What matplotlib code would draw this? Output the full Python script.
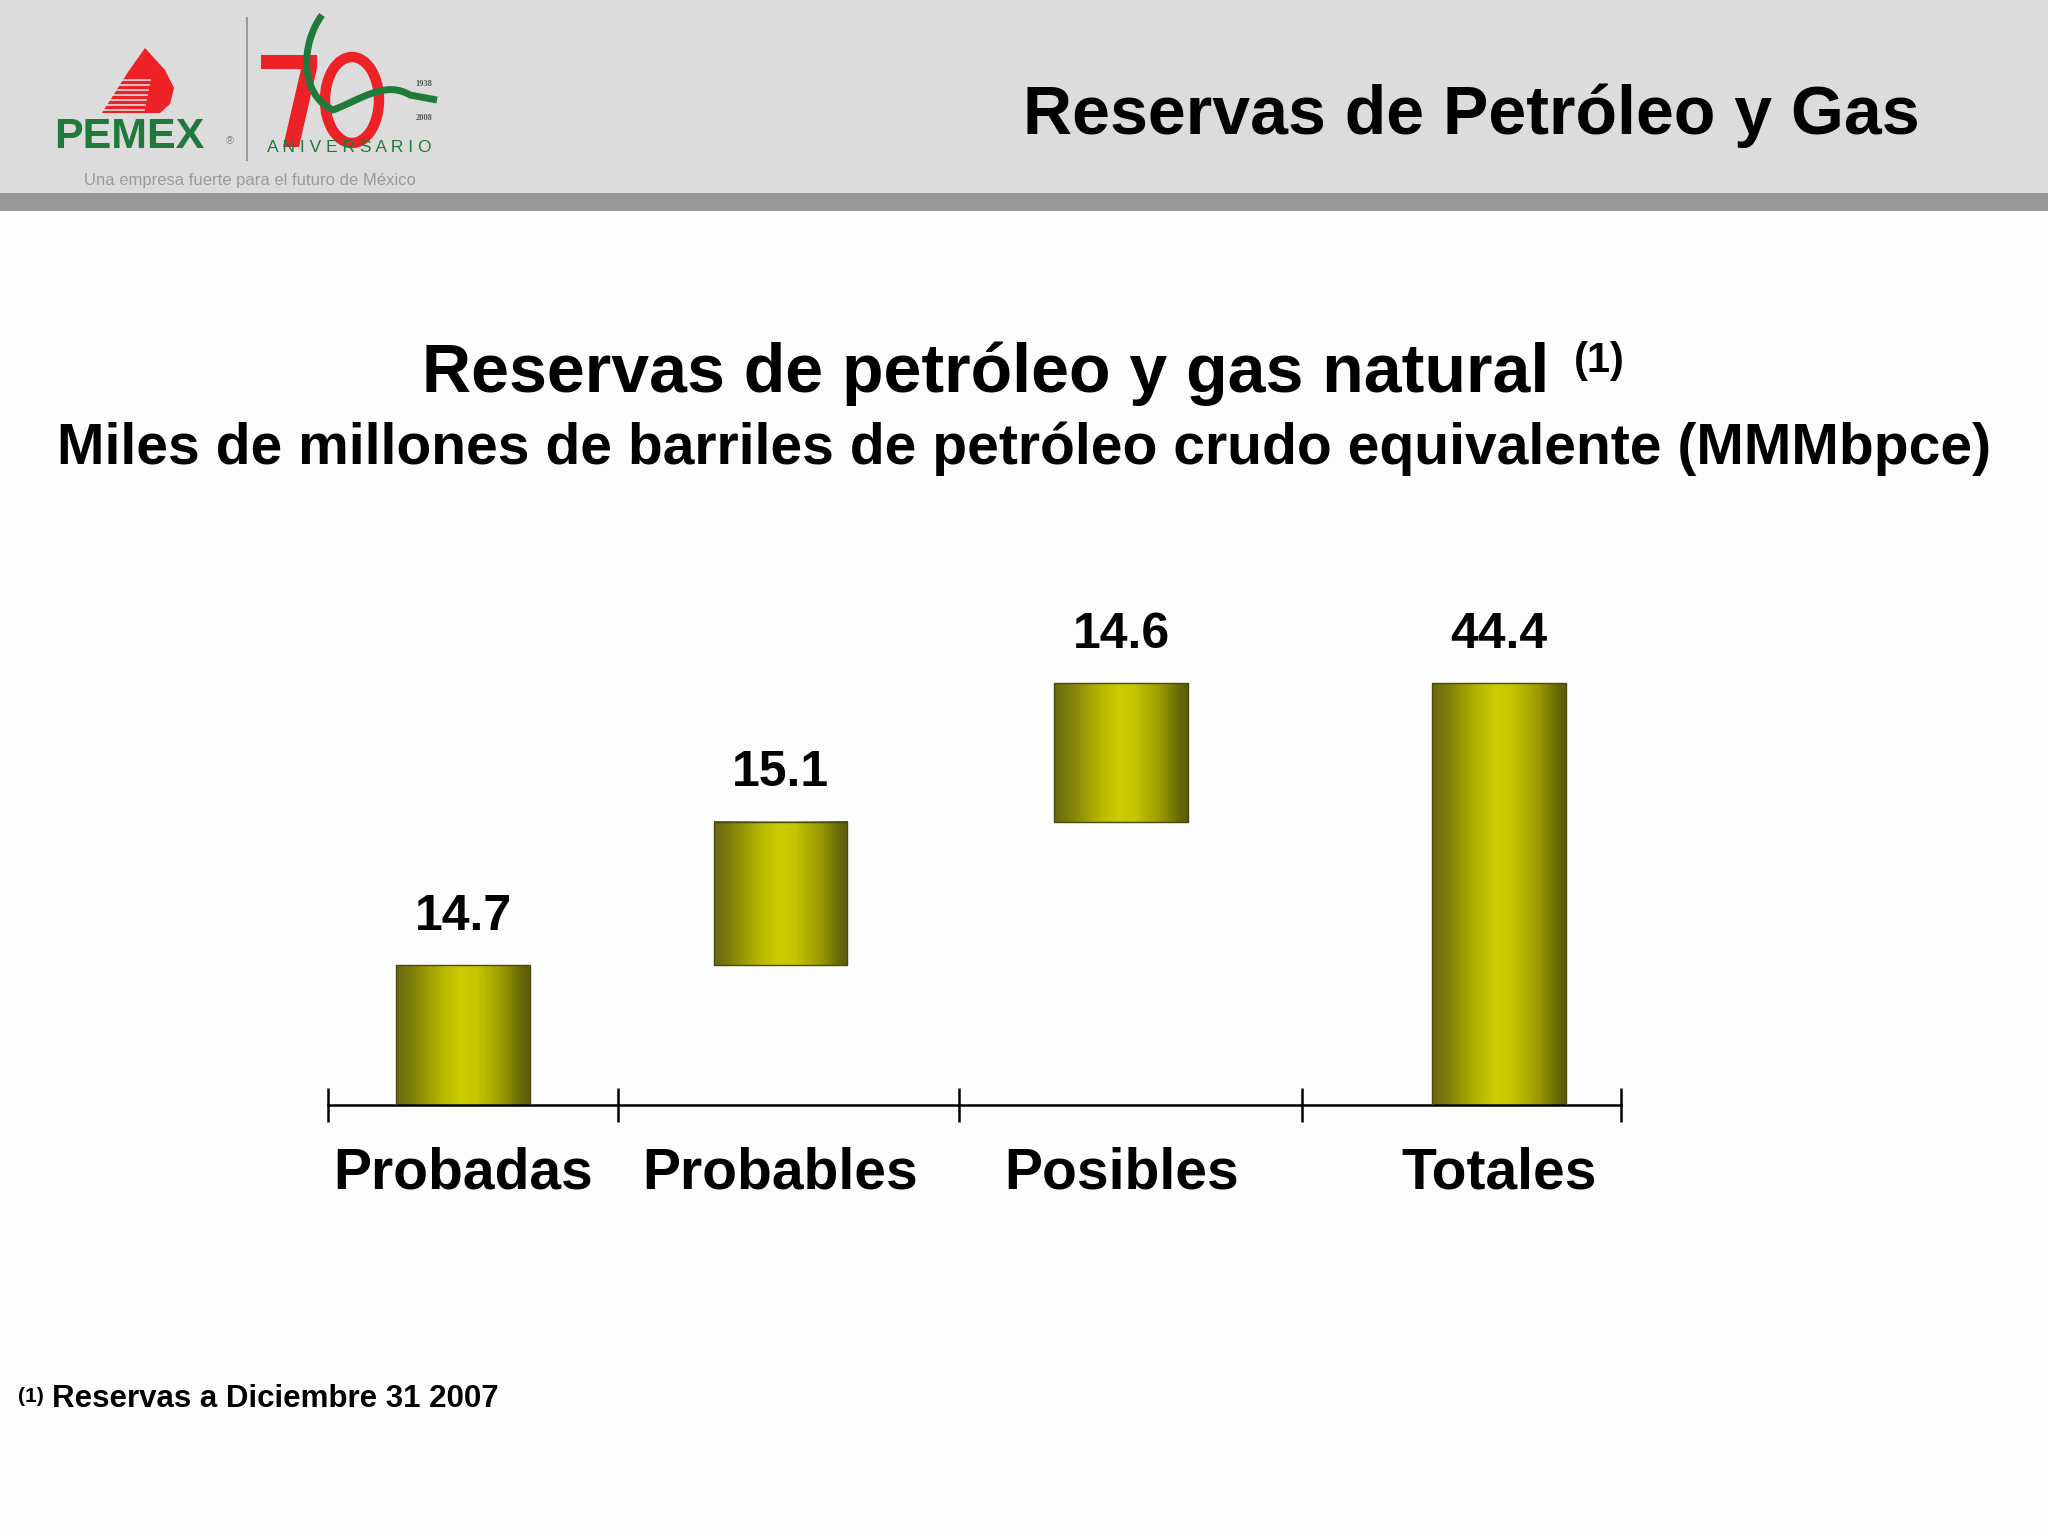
import numpy as np
import matplotlib
matplotlib.use("Agg")
import matplotlib.pyplot as plt
from matplotlib.colors import LinearSegmentedColormap
from matplotlib.patches import Rectangle, Polygon, Ellipse, PathPatch
from matplotlib.path import Path

plt.rcParams['font.family'] = ['Liberation Sans', 'DejaVu Sans']

# datos
categorias = ["Probadas", "Probables", "Posibles", "Totales"]
valores = [14.7, 15.1, 14.6, 44.4]
etiquetas = ["14.7", "15.1", "14.6", "44.4"]

W, H = 2048, 1537
fig = plt.figure(figsize=(W / 100, H / 100), dpi=100)
fig.patch.set_facecolor("#fdfdfd")

def fx(px):
    return px / W

def fy(py):
    return 1 - py / H

# cabecera gris
fig.patches.append(Rectangle((0, fy(193)), 1, 193 / H, transform=fig.transFigure,
                             facecolor="#dddcdd", edgecolor="none", zorder=0))
fig.patches.append(Rectangle((0, fy(211)), 1, 18 / H, transform=fig.transFigure,
                             facecolor="#98979a", edgecolor="none", zorder=0))

fig.text(fx(1920), fy(116), "Reservas de Petróleo y Gas", ha="right", va="center",
         fontsize=49, fontweight="bold", color="black")

# logo PEMEX (aproximado)
rojo = "#ec2227"
verde = "#1f7a3c"
gota = [(145, 48), (128, 72), (102, 113), (160, 113), (170, 104), (174, 88), (165, 70)]
fig.patches.append(Polygon([(fx(x), fy(y)) for x, y in gota], closed=True,
                           transform=fig.transFigure, facecolor=rojo, edgecolor="none"))
for yy in range(80, 114, 5):
    fig.lines.append(plt.Line2D([fx(100), fx(150 - (yy - 80) * 0.2)], [fy(yy), fy(yy)],
                                transform=fig.transFigure, color="#dddcdd", lw=1.2))
fig.text(fx(54), fy(137), "PEMEX", ha="left", va="center", fontsize=31,
         fontweight="bold", color=verde)
fig.text(fx(226), fy(141), "®", ha="left", va="center", fontsize=8, color="#888888")
fig.lines.append(plt.Line2D([fx(247), fx(247)], [fy(18), fy(160)],
                            transform=fig.transFigure, color="#9a9a9a", lw=1.5))
siete = [(261, 55), (317, 55), (317, 68), (299, 147), (283, 147), (301, 69), (261, 69)]
fig.patches.append(Polygon([(fx(x), fy(y)) for x, y in siete], closed=True,
                           transform=fig.transFigure, facecolor=rojo, edgecolor="none"))
fig.patches.append(Ellipse((fx(352), fy(100)), 54 / W, 86 / H, transform=fig.transFigure,
                           facecolor="none", edgecolor=rojo, lw=7.5))
verts = [(322, 15), (300, 45), (300, 95), (333, 110), (360, 100), (385, 80), (410, 95), (437, 100)]
codes = [Path.MOVETO, Path.CURVE4, Path.CURVE4, Path.CURVE4,
         Path.CURVE4, Path.CURVE4, Path.CURVE4, Path.LINETO]
fig.patches.append(PathPatch(Path([(fx(x), fy(y)) for x, y in verts], codes),
                             transform=fig.transFigure, facecolor="none",
                             edgecolor=verde, lw=5))
fig.text(fx(424), fy(84), "1938", ha="center", va="center", fontsize=6, color="#555555",
         family=["Liberation Serif"], fontweight="bold")
fig.text(fx(424), fy(118), "2008", ha="center", va="center", fontsize=6, color="#555555",
         family=["Liberation Serif"], fontweight="bold")
fig.text(fx(349), fy(147), "A N I V E R S A R I O", ha="center", va="center",
         fontsize=12.5, color=verde)
fig.text(fx(250), fy(180), "Una empresa fuerte para el futuro de México", ha="center",
         va="center", fontsize=12, color="#9a9a9a")

# titulos
fig.text(fx(986), fy(374), "Reservas de petróleo y gas natural", ha="center", va="center",
         fontsize=49, fontweight="bold")
fig.text(fx(1574), fy(361), "(1)", ha="left", va="center", fontsize=30, fontweight="bold")
fig.text(fx(1024), fy(449), "Miles de millones de barriles de petróleo crudo equivalente (MMMbpce)",
         ha="center", va="center", fontsize=41, fontweight="bold")

# grafica tipo cascada
ax = fig.add_axes([328 / W, 432 / H, (1621 - 328) / W, 475 / H])
ax.set_facecolor("none")

xpos = [0, 0.972, 2.016, 3.172]
limites = [-0.414, 0.474, 1.518, 2.570, 3.546]
ancho = 0.41

bases = [0, valores[0], valores[0] + valores[1], 0]
cmap = LinearSegmentedColormap.from_list("olivo", [
    (0.0, "#686810"), (0.12, "#7f7f0a"), (0.35, "#b8b800"), (0.48, "#cccc00"),
    (0.6, "#c6c600"), (0.8, "#999900"), (0.93, "#6a6a08"), (1.0, "#5c5c0a")])
grad = np.linspace(0, 1, 256).reshape(1, -1)

for x, b, v, t in zip(xpos, bases, valores, etiquetas):
    ax.imshow(grad, cmap=cmap, aspect="auto", extent=(x - ancho / 2, x + ancho / 2, b, b + v),
              zorder=2, interpolation="bilinear")
    ax.bar(x, v, bottom=b, width=ancho, facecolor="none", edgecolor="#4a4a10",
           linewidth=1.0, zorder=3)
    ax.annotate(t, (x, b + v), xytext=(0, 35), textcoords="offset points",
                ha="center", va="center", fontsize=36, fontweight="bold")

ax.set_xlim(limites[0], limites[-1])
ax.set_ylim(0, 50)
for s in ["left", "right", "top"]:
    ax.spines[s].set_visible(False)
ax.spines["bottom"].set_linewidth(1.8)
ax.set_yticks([])
ax.set_xticks(limites)
ax.set_xticklabels([])
ax.tick_params(axis="x", which="major", direction="inout", length=24, width=1.8)
ax.set_xticks(xpos, minor=True)
ax.set_xticklabels(categorias, minor=True, fontsize=41, fontweight="bold")
ax.tick_params(axis="x", which="minor", length=0, pad=30)

# nota
fig.text(fx(18), fy(1396), "(1)", ha="left", va="center", fontsize=15, fontweight="bold")
fig.text(fx(52), fy(1399), "Reservas a Diciembre 31 2007", ha="left", va="center",
         fontsize=22.5, fontweight="bold")

plt.savefig("out.png", dpi=100)
plt.close()
